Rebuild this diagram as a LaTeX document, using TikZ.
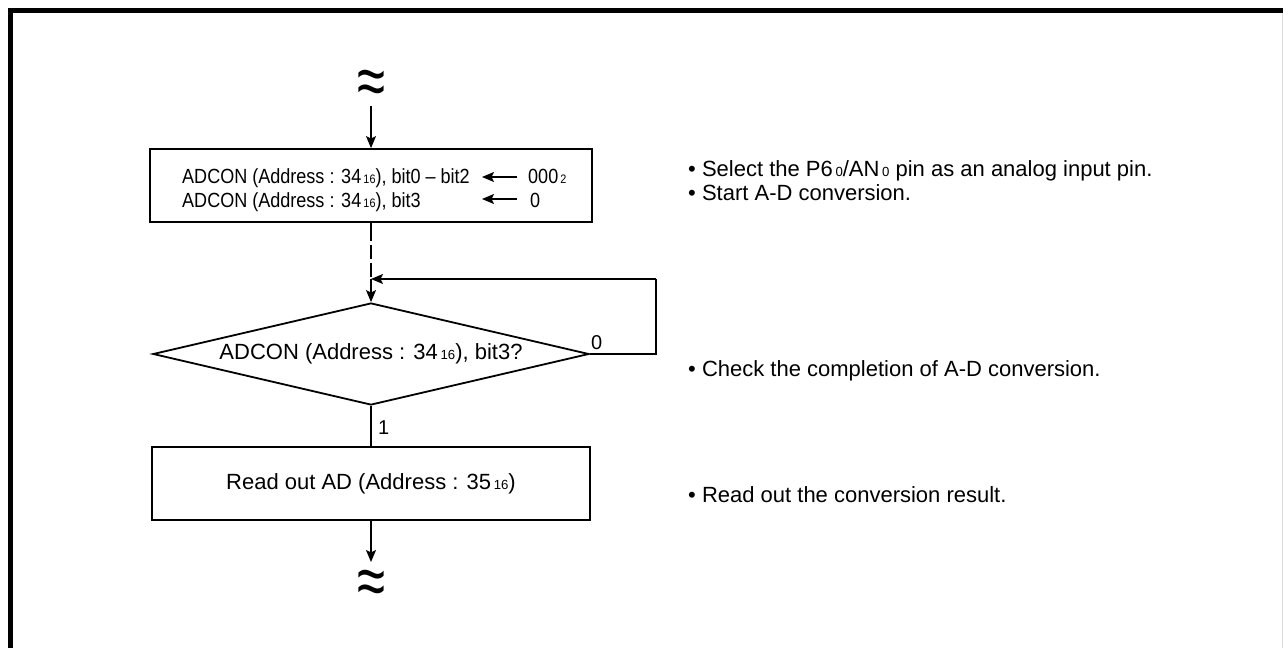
\documentclass[tikz,border=0pt]{standalone}
\usepackage{fontspec}
\setmainfont{Liberation Sans}
\usepackage{graphicx}
\usetikzlibrary{arrows.meta,shapes.geometric}
\newcommand{\sbs}[1]{\kern0.12em\scalebox{0.6}{#1}}
\newcommand{\wavy}{\scalebox{1.5}[2.1]{\fontsize{34}{34}\selectfont ≈}}
\tikzset{
  frameline/.style={line width=5pt,line cap=rect},
  boxshape/.style={draw,line width=1.8pt,rectangle,inner sep=0pt},
  decshape/.style={draw,line width=1.8pt,diamond,aspect=4.27,inner sep=3pt,
     minimum width=436pt,minimum height=102pt,font=\fontsize{22}{26}\selectfont},
  conn/.style={line width=1.3pt},
  arr/.style={conn,-{Stealth[length=12pt,width=10pt,inset=2.5pt]}},
  boxtext/.style={anchor=base west,inner sep=0pt,font=\fontsize{20.5}{24}\selectfont},
  note/.style={anchor=base west,inner sep=0pt,font=\fontsize{22}{26}\selectfont},
  lbl/.style={anchor=base west,inner sep=0pt,font=\fontsize{20}{24}\selectfont},
}
\begin{document}
\begin{tikzpicture}[x=1pt,y=-1pt]
\useasboundingbox (0,0) rectangle (1283,648);
% frame
\draw[frameline] (10.5,650) -- (10.5,10.5) -- (1285,10.5);
\draw[gray!30,line width=1pt] (1282.5,13) -- (1282.5,648);

% top break symbol
\node[inner sep=0pt] (top) at (371,88) {\wavy};
\coordinate (topstart) at (371,106);

% box 1
\node[boxshape,minimum width=442pt,minimum height=73pt] (b1) at (371,185.5) {};
\node[boxtext] (r1a) at (182,183) {\scalebox{0.88}[1]{ADCON (Address : 34\sbs{16}), bit0 – bit2}};
\node[boxtext] (r1b) at (528,183) {\scalebox{0.88}[1]{000\sbs{2}}};
\node[boxtext] (r2a) at (182,207) {\scalebox{0.88}[1]{ADCON (Address : 34\sbs{16}), bit3}};
\node[boxtext] (r2b) at (530,207) {\scalebox{0.88}[1]{0}};
\coordinate (a1s) at (517,177); \coordinate (a1e) at (482,177);
\coordinate (a2s) at (517,199); \coordinate (a2e) at (482,199);
\draw[arr] (a1s) -- (a1e);
\draw[arr] (a2s) -- (a2e);

% decision
\node[decshape] (dec) at (371,354) {ADCON (Address : 34\sbs{16}), bit3?};
\coordinate (join) at (371,279);
\coordinate (loopA) at (656,354);
\coordinate (loopB) at (656,279);

% box 2
\node[boxshape,minimum width=438pt,minimum height=73pt,font=\fontsize{22}{26}\selectfont] (b2) at (371,483.5) {Read out AD (Address : 35\sbs{16})};
\coordinate (endarrow) at (371,562);
\node[inner sep=0pt] (bot) at (371,588) {\wavy};

% connectors
\draw[arr] (topstart) -- (b1.north);
\draw[conn,dash pattern=on 18pt off 4pt on 14pt off 4pt on 14pt off 4pt] (b1.south) -- (join);
\draw[arr] (join) -- (dec.north);
\draw[conn] (dec.east) -- (loopA) -- (loopB);
\draw[arr] (loopB) -- (join);
\draw[conn] (dec.south) -- (b2.north);
\draw[arr] (b2.south) -- (endarrow);

% branch labels
\node[lbl] (l0) at (591,349) {0};
\node[lbl] (l1) at (378,434) {1};

% notes
\node[note] (n1) at (688,176) {• Select the P6\sbs{0}/AN\sbs{0} pin as an analog input pin.};
\node[note] (n2) at (688,200) {• Start A-D conversion.};
\node[note] (n3) at (688,376) {• Check the completion of A-D conversion.};
\node[note] (n4) at (688,502) {• Read out the conversion result.};
\end{tikzpicture}
\end{document}
